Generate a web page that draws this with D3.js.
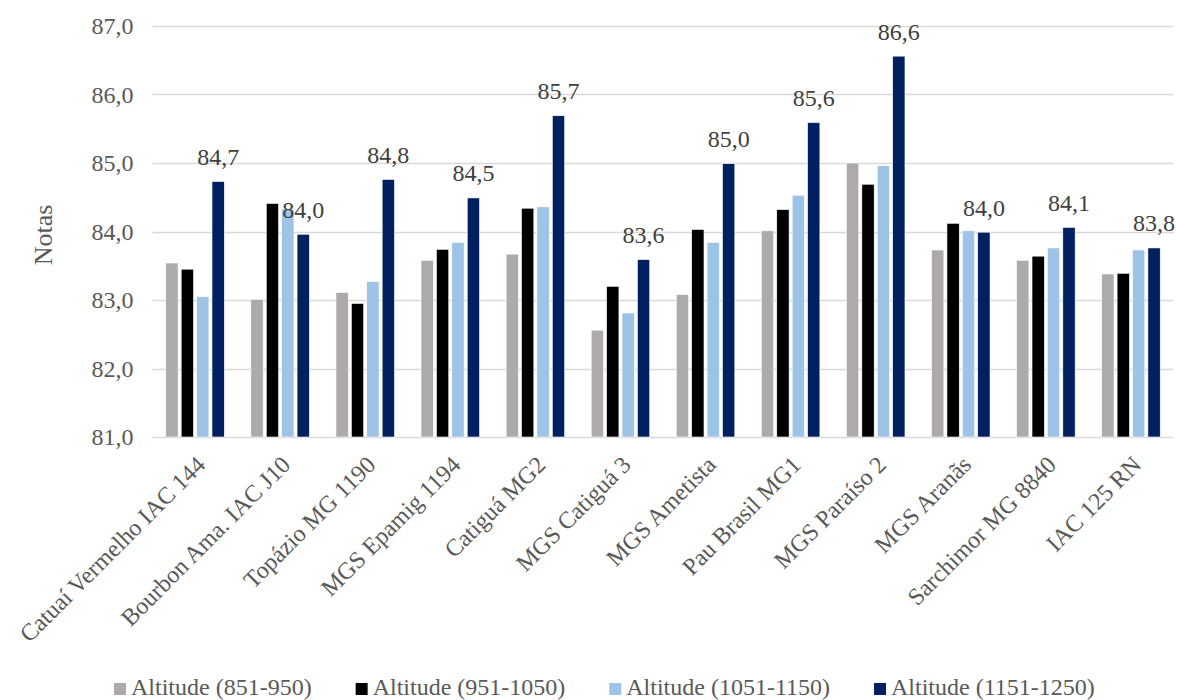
<!DOCTYPE html>
<html>
<head>
<meta charset="utf-8">
<script src="https://cdn.jsdelivr.net/npm/d3@7"></script>
<style>
  html, body { margin: 0; padding: 0; background: #fff; }
  #chart, #chart text { font-family: 'Liberation Serif', 'Times New Roman', 'DejaVu Serif', serif; }
</style>
</head>
<body>
<svg id="chart" width="1177" height="700" font-family="Liberation Serif, Times New Roman, DejaVu Serif, serif"></svg>
<script>
// Cultivares avaliadas
const categories = [
  "Catuaí Vermelho IAC 144", "Bourbon Ama. IAC J10", "Topázio MG 1190",
  "MGS Epamig 1194", "Catiguá MG2", "MGS Catiguá 3", "MGS Ametista",
  "Pau Brasil MG1", "MGS Paraíso 2", "MGS Aranãs", "Sarchimor MG 8840",
  "IAC 125 RN"
];

// Notas médias por faixa de altitude
const alt851_950   = [83.54, 83.01, 83.11, 83.58, 83.67, 82.56, 83.08, 84.01, 85.00, 83.73, 83.58, 83.38];
const alt951_1050  = [83.45, 84.41, 82.95, 83.74, 84.34, 83.20, 84.03, 84.32, 84.69, 84.12, 83.64, 83.39];
const alt1051_1150 = [83.05, 84.33, 83.27, 83.84, 84.36, 82.81, 83.84, 84.53, 84.96, 84.01, 83.76, 83.73];
const alt1151_1250 = [84.73, 83.96, 84.76, 84.49, 85.69, 83.59, 84.99, 85.59, 86.56, 83.99, 84.06, 83.76];

const seriesNames = ["Altitude (851-950)", "Altitude (951-1050)", "Altitude (1051-1150)", "Altitude (1151-1250)"];
const seriesColors = ["#AEAAAA", "#000000", "#9DC3E6", "#002060"];
const yTicks = [81, 82, 83, 84, 85, 86, 87];

const FONT = "'Liberation Serif', 'Times New Roman', 'DejaVu Serif', serif";
const TEXT_COLOR = "#595959";

const seriesValues = [alt851_950, alt951_1050, alt1051_1150, alt1151_1250];
const table = categories.map((c, i) => ({
  category: c,
  values: seriesValues.map((vals, s) => ({ series: s, value: vals[i] }))
}));

const ptBR = d3.formatLocale({ decimal: ",", thousands: ".", grouping: [3], currency: ["R$", ""] });
const fmt = ptBR.format(".1f");

const svg = d3.select("#chart");
const plot = { left: 152.5, right: 1173.5, top: 26, bottom: 437 };

const x0 = d3.scaleBand()
  .domain(categories)
  .range([plot.left, plot.right])
  .paddingInner(0.276)
  .paddingOuter(0.138);

const x1 = d3.scaleBand()
  .domain(d3.range(seriesNames.length))
  .range([0, x0.bandwidth()])
  .paddingInner(0.2)
  .paddingOuter(0.1);

const y = d3.scaleLinear()
  .domain([81, 87])
  .range([plot.bottom, plot.top]);

// Linhas de grade horizontais
svg.append("g")
  .selectAll("line")
  .data(yTicks)
  .join("line")
  .attr("x1", plot.left)
  .attr("x2", plot.right)
  .attr("y1", d => Math.round(y(d)) + 0.5)
  .attr("y2", d => Math.round(y(d)) + 0.5)
  .attr("stroke", "#d9d9d9")
  .attr("stroke-width", 1.5);

// Eixo Y
const yAxis = svg.append("g")
  .attr("transform", `translate(${plot.left - 19},0)`)
  .call(d3.axisLeft(y).tickValues(yTicks).tickSize(0).tickPadding(0).tickFormat(fmt))
  .attr("font-family", FONT)
  .attr("font-size", 24);
yAxis.select(".domain").remove();
yAxis.selectAll("text")
  .attr("dy", "0.33em")
  .attr("fill", TEXT_COLOR)
  .style("font-family", FONT);

// Título do eixo Y
svg.append("text")
  .attr("transform", "translate(52,235) rotate(-90)")
  .attr("text-anchor", "middle")
  .attr("font-size", 26)
  .attr("fill", TEXT_COLOR)
  .style("font-family", FONT)
  .text("Notas");

// Barras
const groups = svg.append("g")
  .selectAll("g")
  .data(table)
  .join("g")
  .attr("transform", d => `translate(${x0(d.category)},0)`);

groups.selectAll("rect")
  .data(d => d.values)
  .join("rect")
  .attr("x", d => x1(d.series))
  .attr("width", x1.bandwidth())
  .attr("y", d => y(d.value))
  .attr("height", d => y(81) - y(d.value))
  .attr("fill", d => seriesColors[d.series])
  .attr("stroke", "#ffffff")
  .attr("stroke-width", 0.6);

// Rótulos de dados da maior altitude
const topSeries = seriesNames.length - 1;
svg.append("g")
  .selectAll("text")
  .data(table)
  .join("text")
  .attr("x", d => x0(d.category) + x1(topSeries) + x1.bandwidth() / 2)
  .attr("y", d => y(d.values[topSeries].value) - 16.5)
  .attr("text-anchor", "middle")
  .attr("font-size", 24)
  .attr("fill", "#404040")
  .style("font-family", FONT)
  .text(d => fmt(d.values[topSeries].value));

// Rótulos das categorias (inclinados)
svg.append("g")
  .selectAll("text")
  .data(categories)
  .join("text")
  .attr("transform", d => `translate(${x0(d) + x0.bandwidth() / 2 - 1},453.5) rotate(-45)`)
  .attr("text-anchor", "end")
  .attr("dy", "0.75em")
  .attr("font-size", 24)
  .attr("fill", TEXT_COLOR)
  .style("font-family", FONT)
  .text(d => d);

// Legenda
const legend = svg.append("g");
let cursor = 114;
seriesNames.forEach((name, i) => {
  legend.append("rect")
    .attr("x", cursor)
    .attr("y", 683)
    .attr("width", 12)
    .attr("height", 12)
    .attr("fill", seriesColors[i]);
  const t = legend.append("text")
    .attr("x", cursor + 17)
    .attr("y", 695)
    .attr("font-size", 24)
    .attr("fill", TEXT_COLOR)
    .style("font-family", FONT)
    .text(name);
  cursor += 17 + t.node().getComputedTextLength() + 44;
});
</script>
</body>
</html>
